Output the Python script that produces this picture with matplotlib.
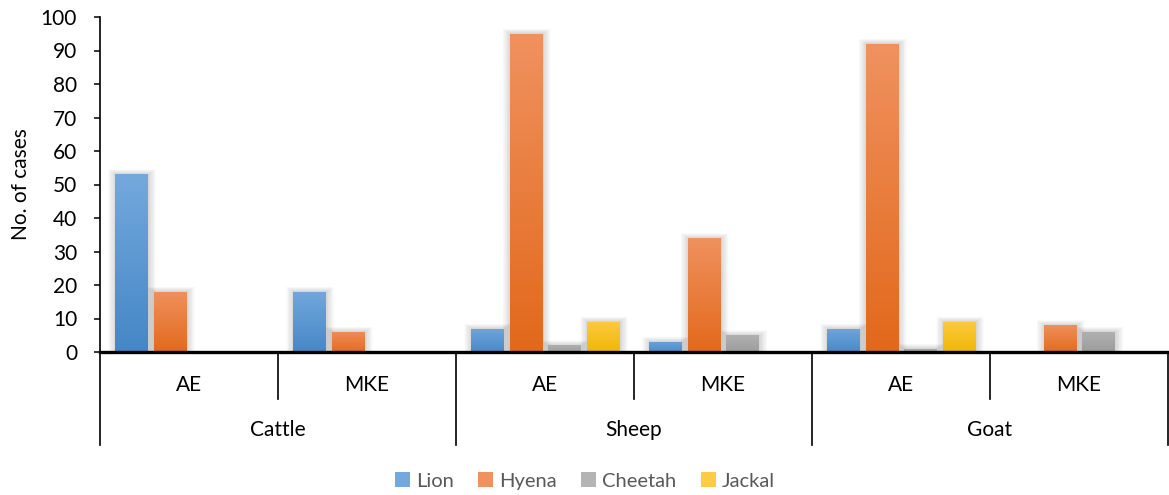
import numpy as np
import matplotlib.pyplot as plt
from matplotlib.colors import LinearSegmentedColormap
from matplotlib.patches import Rectangle, Patch

plt.rcParams['font.family'] = ['Lato', 'DejaVu Sans']

animals = ["Cattle", "Sheep", "Goat"]
sites = ["AE", "MKE"]
lion = [53, 18, 7, 3, 7, 0]
hyena = [18, 6, 95, 34, 92, 8]
cheetah = [0, 0, 2, 5, 1, 6]
jackal = [0, 0, 9, 0, 9, 0]

series = [("Lion", lion, "#74A9DD", "#4486C6"),
          ("Hyena", hyena, "#F09260", "#E2681A"),
          ("Cheetah", cheetah, "#B4B4B4", "#999999"),
          ("Jackal", jackal, "#FFCB45", "#EDB600")]

W, H = 1169, 495
fig = plt.figure(figsize=(W / 100, H / 100), dpi=100)
ax = fig.add_axes([100 / W, 143 / H, 1068 / W, 335 / H])

x = np.arange(6)
bw = 0.18
step = 0.217
xpx = 1 / 178.0   # data units per pixel (x)
ypx = 100 / 335.0  # data units per pixel (y)

for i, (name, vals, top, bot) in enumerate(series):
    cmap = LinearSegmentedColormap.from_list(name, [bot, top])
    grad = np.linspace(0, 1, 256).reshape(-1, 1)
    pos = x + (i - 1.5) * step
    # invisible bars, only used as clip shapes for the gradient fill
    bars = ax.bar(pos, vals, bw, facecolor="none", edgecolor="none", zorder=3)
    for b, v in zip(bars, vals):
        if v <= 0:
            continue
        x0, w = b.get_x(), b.get_width()
        # soft drop shadow: stacked faint rectangles, growing outward
        for k in range(1, 11):
            sh = Rectangle((x0 + (1.0 - 0.8 * k) * xpx, -0.2 * k * ypx),
                           w + 1.6 * k * xpx, v + 0.7 * k * ypx,
                           facecolor="black", alpha=0.016, lw=0, zorder=2)
            ax.add_patch(sh)
        # gradient a little larger than the bar, then clipped to it
        im = ax.imshow(grad, cmap=cmap, aspect="auto", origin="lower",
                       extent=(x0 - 3 * xpx, x0 + w + 3 * xpx, -3 * ypx, v + 3 * ypx),
                       zorder=4)
        im.set_clip_path(b)

ax.set_xlim(-0.5, 5.5)
ax.set_ylim(0, 100)
ax.set_yticks(range(0, 101, 10))
ax.tick_params(axis="y", direction="out", length=4.5, width=1.1, color="black",
               labelsize=15, pad=12)
ax.set_xticks([])
ax.spines["top"].set_visible(False)
ax.spines["right"].set_visible(False)
ax.spines["left"].set_linewidth(1.2)
ax.spines["bottom"].set_linewidth(2.4)
ax.spines["bottom"].set_zorder(6)
ax.set_ylabel("No. of cases", fontsize=15)
ax.yaxis.set_label_coords(-69 / 1068, 0.5)

# two-level category axis
tr = ax.get_xaxis_transform()
lo = -93 / 335
mid = -47 / 335
for xv in [-0.5, 1.5, 3.5, 5.5]:
    ax.plot([xv, xv], [0, lo], color="black", lw=1.2, transform=tr, clip_on=False)
for xv in [0.5, 2.5, 4.5]:
    ax.plot([xv, xv], [0, mid], color="black", lw=1.2, transform=tr, clip_on=False)
for j in range(6):
    ax.text(j, -33 / 335, sites[j % 2], transform=tr, ha="center", va="center",
            fontsize=15)
for g, name in enumerate(animals):
    ax.text(2 * g + 0.5, -78 / 335, name, transform=tr, ha="center", va="center",
            fontsize=15)

handles = [Patch(facecolor=top, edgecolor="none") for _, _, top, _ in series]
leg = fig.legend(handles, [s[0] for s in series], loc="center",
                 bbox_to_anchor=(585 / W, 1 - 481 / H), ncol=4, frameon=False,
                 fontsize=14.5, handlelength=0.75, handleheight=0.75,
                 handletextpad=0.3, columnspacing=1.2)
for t in leg.get_texts():
    t.set_color("#595959")

fig.savefig("out.png", dpi=100)
